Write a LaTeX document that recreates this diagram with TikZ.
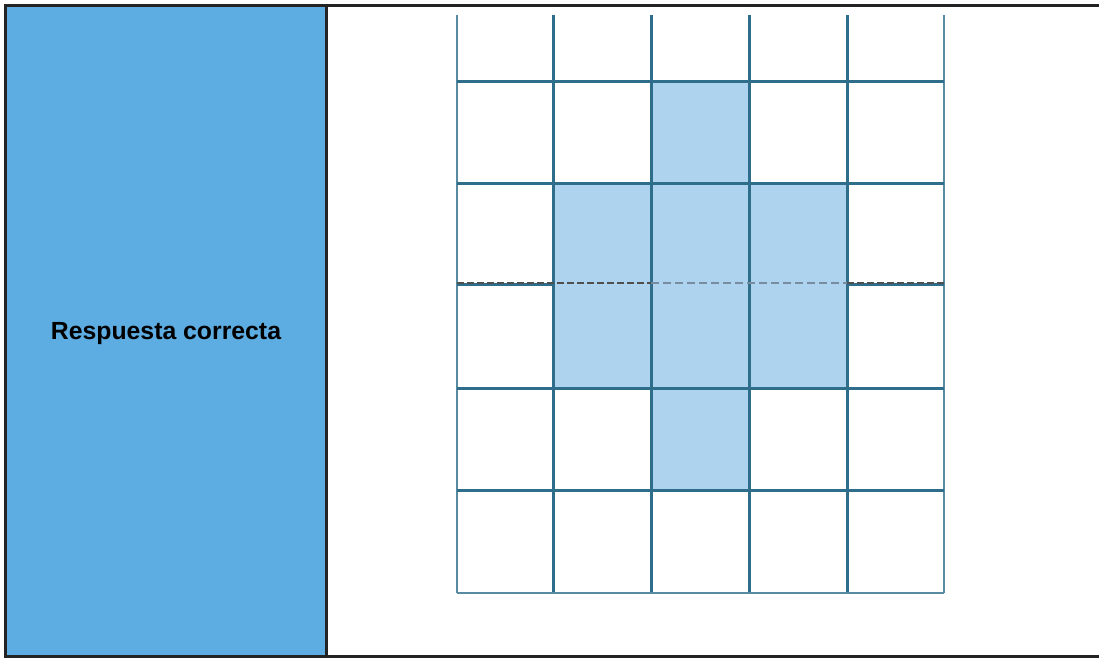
\documentclass[tikz,border=0pt]{standalone}
\usepackage{fontspec}
\setmainfont{Liberation Sans}
\usepackage{tikz}
\definecolor{cellblue}{RGB}{93,173,226}
\definecolor{gridteal}{RGB}{46,110,138}
\definecolor{shadeblue}{RGB}{174,211,238}
\definecolor{framedark}{RGB}{35,35,35}
\definecolor{dashgray}{RGB}{120,140,160}
\tikzset{
  frame/.style={draw=framedark, line width=3pt},
  inner/.style={draw=gridteal, line width=3pt},
  outer/.style={draw=gridteal!80, line width=1.8pt},
  shade/.style={fill=shadeblue},
  label/.style={font=\bfseries\fontsize{24.8}{28}\selectfont, text=black}
}

\begin{document}
\begin{tikzpicture}[x=1pt, y=-1pt]
  \useasboundingbox (0,0) rectangle (1099,657);
  \fill[white] (0,0) rectangle (1099,657);

  % Left cell
  \fill[cellblue] (5,5) rectangle (326,656);
  \node[label] (answer) at (166,334) {Respuesta correcta};

  % Shaded cells
  \fill[shade] (651,81) rectangle (749,183);
  \fill[shade] (553,183) rectangle (847,388);
  \fill[shade] (651,388) rectangle (749,490);

  % Grid lines
  \foreach \x in {553,651,749,847}
    \draw[inner] (\x,15) -- (\x,593);
  \draw[outer] (457,15) -- (457,593);
  \draw[outer] (944,15) -- (944,593);
  \foreach \y in {81,183,388,490}
    \draw[inner] (457,\y) -- (944,\y);
  \draw[inner] (457,284) -- (553,284);
  \draw[inner] (847,284) -- (944,284);
  \draw[outer] (457,593) -- (944,593);

  % Dashed axis
  \draw[framedark!80, line width=2.2pt, dash pattern=on 7pt off 3pt] (457,283) -- (651,283);
  \draw[dashgray, line width=1.8pt, dash pattern=on 8pt off 4pt] (651,283) -- (847,283);
  \draw[framedark!80, line width=2.2pt, dash pattern=on 7pt off 3pt] (847,283) -- (944,283);

  % Table frame
  \draw[frame] (1099,5) -- (5,5) -- (5,656) -- (1099,656);
  \draw[frame] (326,5) -- (326,656);
\end{tikzpicture}
\end{document}
